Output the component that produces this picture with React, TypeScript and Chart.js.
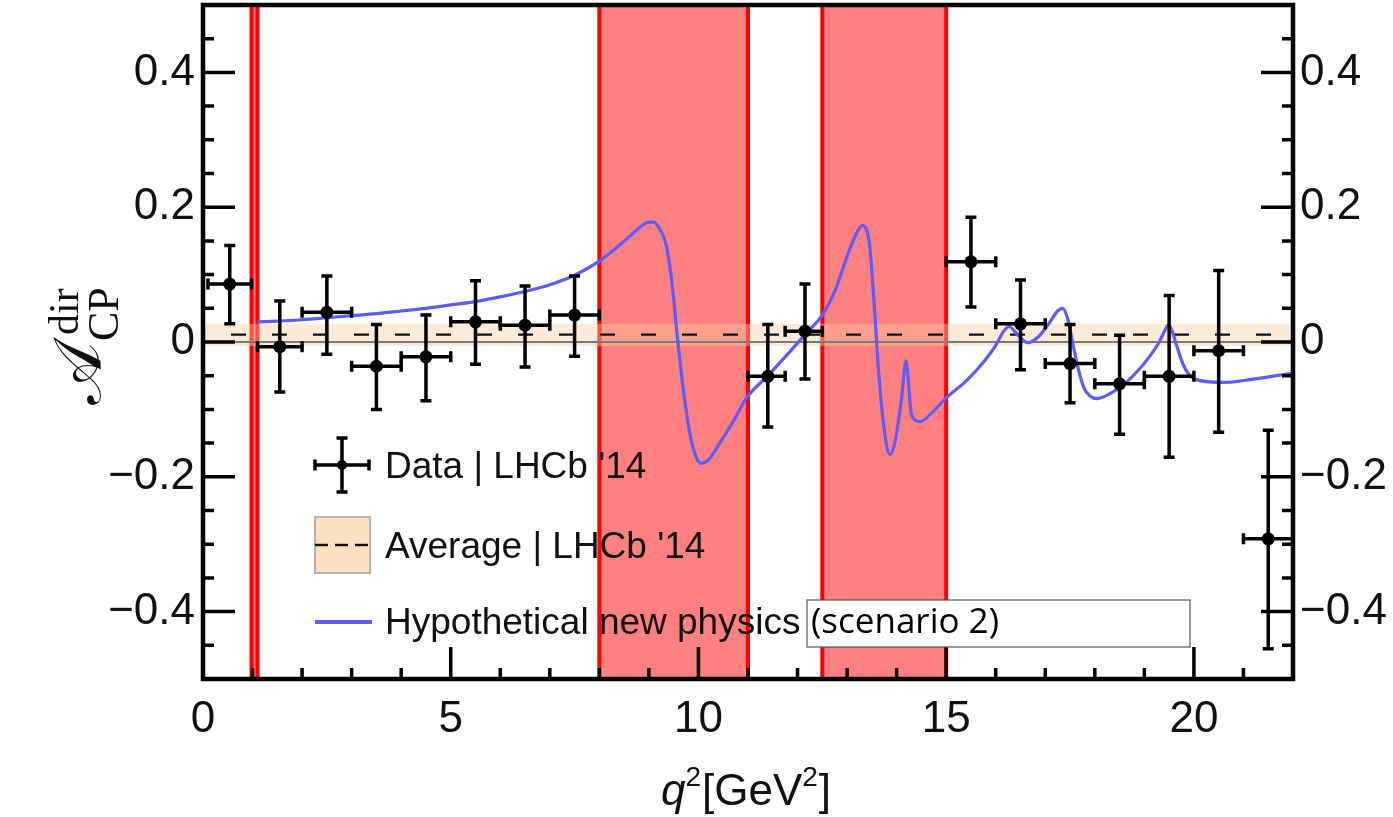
import React, { useEffect, useRef } from 'react';
import { Chart, registerables } from 'chart.js';

Chart.register(...registerables);

// ---- axis ticks ----
const xTickLabels = [0, 5, 10, 15, 20];
const xMinorTicks = [1, 2, 3, 4, 6, 7, 8, 9, 11, 12, 13, 14, 16, 17, 18, 19, 21];
const yTickLabels = [-0.4, -0.2, 0, 0.2, 0.4];
const yMinorTicks = [-0.45, -0.35, -0.3, -0.25, -0.15, -0.1, -0.05, 0.05, 0.1, 0.15, 0.25, 0.3, 0.35, 0.45];

// ---- vetoed q2 regions ----
const vetoLo = [0.98, 8.0, 12.5];
const vetoHi = [1.1, 11.0, 15.0];

// ---- LHCb '14 average ----
const avgValue = 0.011;
const avgLow = -0.006;
const avgHigh = 0.027;

// ---- LHCb '14 data ----
const binLo = [0.1, 1.1, 2, 3, 4, 5, 6, 7, 11, 11.75, 15, 16, 17, 18, 19, 20, 21];
const binHi = [0.98, 2, 3, 4, 5, 6, 7, 8, 11.75, 12.5, 16, 17, 18, 19, 20, 21, 22];
const dataX = [0.54, 1.55, 2.5, 3.5, 4.5, 5.5, 6.5, 7.5, 11.4, 12.15, 15.5, 16.5, 17.5, 18.5, 19.5, 20.5, 21.5];
const dataY = [0.086, -0.007, 0.044, -0.036, -0.022, 0.030, 0.025, 0.040, -0.051, 0.016, 0.119, 0.027, -0.032, -0.062, -0.051, -0.013, -0.292];
const dataYHigh = [0.143, 0.061, 0.098, 0.026, 0.040, 0.091, 0.083, 0.098, 0.026, 0.086, 0.185, 0.092, 0.026, 0.010, 0.069, 0.106, -0.131];
const dataYLow = [0.027, -0.074, -0.018, -0.100, -0.087, -0.033, -0.037, -0.021, -0.126, -0.055, 0.052, -0.041, -0.090, -0.137, -0.171, -0.134, -0.455];

// ---- hypothetical new physics (scenario 2) ----
const npX = [1.1, 1.5, 2.0, 2.5, 3.0, 3.5, 4.0, 4.5, 5.0, 5.5, 6.0, 6.5, 7.0, 7.5, 8.0, 8.3, 8.6, 8.85, 9.0, 9.1, 9.2, 9.3, 9.36, 9.46, 9.57, 9.69, 9.83, 9.95, 10.06, 10.2, 10.37, 10.7, 10.97, 11.4, 11.8, 12.2, 12.5, 12.75, 12.99, 13.15, 13.31, 13.4, 13.46, 13.56, 13.63, 13.73, 13.86, 13.97, 14.1, 14.19, 14.3, 14.47, 14.74, 15.0, 15.4, 15.75, 16.0, 16.15, 16.27, 16.45, 16.65, 16.85, 17.05, 17.25, 17.35, 17.45, 17.55, 17.65, 17.78, 17.9, 18.05, 18.3, 18.6, 18.9, 19.1, 19.3, 19.42, 19.48, 19.55, 19.65, 19.78, 19.92, 20.1, 20.6, 21.2, 22.0];
const npY = [0.030, 0.031, 0.033, 0.036, 0.039, 0.042, 0.046, 0.050, 0.055, 0.060, 0.067, 0.075, 0.085, 0.099, 0.120, 0.137, 0.156, 0.172, 0.178, 0.178, 0.170, 0.155, 0.140, 0.091, 0.011, -0.068, -0.137, -0.170, -0.180, -0.175, -0.157, -0.118, -0.083, -0.050, -0.018, 0.015, 0.040, 0.075, 0.125, 0.155, 0.173, 0.165, 0.140, 0.042, -0.038, -0.118, -0.167, -0.147, -0.083, -0.028, -0.108, -0.118, -0.103, -0.083, -0.058, -0.030, -0.005, 0.015, 0.023, 0.010, -0.001, 0.007, 0.025, 0.046, 0.050, 0.035, 0.000, -0.035, -0.068, -0.080, -0.084, -0.077, -0.062, -0.040, -0.022, 0.000, 0.018, 0.025, 0.018, -0.005, -0.033, -0.050, -0.057, -0.060, -0.055, -0.046];

// ---- legend ----
const legendLabels = ["Data | LHCb '14", "Average | LHCb '14", 'Hypothetical new physics'];
const legendNote = '(scenario 2)';

const SANS = '"Liberation Sans", Arial, sans-serif';
const BLUE = '#5c5cff';

function fmtY(v: number): string {
  const r = Math.round(v * 10) / 10;
  if (Math.abs(r) < 1e-9) return '0';
  return r < 0 ? '\u2212' + Math.abs(r).toFixed(1) : r.toFixed(1);
}

const customPlugin = {
  id: 'custom',
  beforeDatasetsDraw(chart: any) {
    const { ctx, chartArea: a, scales } = chart;
    const x = scales.x, y = scales.y;
    ctx.save();
    ctx.beginPath();
    ctx.rect(a.left, a.top, a.right - a.left, a.bottom - a.top);
    ctx.clip();
    // veto bands
    vetoLo.forEach((lo, i) => {
      const x1 = x.getPixelForValue(lo);
      const x2 = x.getPixelForValue(vetoHi[i]);
      ctx.fillStyle = '#ff8080';
      ctx.fillRect(x1, a.top, x2 - x1, a.bottom - a.top);
      ctx.strokeStyle = '#ff0000';
      ctx.lineWidth = 4;
      [x1, x2].forEach((px) => {
        ctx.beginPath();
        ctx.moveTo(px, a.top);
        ctx.lineTo(px, a.bottom);
        ctx.stroke();
      });
    });
    // average band
    const yb1 = y.getPixelForValue(avgHigh);
    const yb2 = y.getPixelForValue(avgLow);
    ctx.fillStyle = 'rgba(250,205,160,0.42)';
    ctx.fillRect(a.left, yb1, a.right - a.left, yb2 - yb1);
    // zero line
    const y0 = y.getPixelForValue(0);
    ctx.strokeStyle = '#7a7a7a';
    ctx.lineWidth = 2;
    ctx.beginPath();
    ctx.moveTo(a.left, y0);
    ctx.lineTo(a.right, y0);
    ctx.stroke();
    // dashed average
    const ya = y.getPixelForValue(avgValue);
    ctx.strokeStyle = '#111';
    ctx.lineWidth = 2.2;
    ctx.setLineDash([15, 26]);
    ctx.lineDashOffset = -28;
    ctx.beginPath();
    ctx.moveTo(a.left, ya);
    ctx.lineTo(a.right, ya);
    ctx.stroke();
    ctx.setLineDash([]);
    ctx.restore();
  },
  afterDatasetsDraw(chart: any) {
    const { ctx, chartArea: a, scales } = chart;
    const x = scales.x, y = scales.y;
    ctx.save();
    ctx.beginPath();
    ctx.rect(a.left, a.top, a.right - a.left, a.bottom - a.top);
    ctx.clip();
    ctx.strokeStyle = '#000';
    ctx.fillStyle = '#000';
    ctx.lineWidth = 3.5;
    const cap = 5.5;
    dataX.forEach((dx, i) => {
      const px = x.getPixelForValue(dx);
      const py = y.getPixelForValue(dataY[i]);
      const xl = x.getPixelForValue(binLo[i]);
      const xh = x.getPixelForValue(binHi[i]);
      const yh = y.getPixelForValue(dataYHigh[i]);
      const yl = y.getPixelForValue(dataYLow[i]);
      ctx.beginPath();
      ctx.moveTo(xl, py); ctx.lineTo(xh, py);
      ctx.moveTo(xl, py - cap); ctx.lineTo(xl, py + cap);
      ctx.moveTo(xh, py - cap); ctx.lineTo(xh, py + cap);
      ctx.moveTo(px, yh); ctx.lineTo(px, yl);
      ctx.moveTo(px - cap, yh); ctx.lineTo(px + cap, yh);
      ctx.moveTo(px - cap, yl); ctx.lineTo(px + cap, yl);
      ctx.stroke();
      ctx.beginPath();
      ctx.arc(px, py, 6.5, 0, Math.PI * 2);
      ctx.fill();
    });
    ctx.restore();
  },
  afterDraw(chart: any) {
    const { ctx, chartArea: a, scales } = chart;
    const x = scales.x, y = scales.y;
    ctx.save();
    // inward ticks
    ctx.strokeStyle = '#000';
    ctx.lineWidth = 3.5;
    const major = 32, minor = 11;
    ctx.beginPath();
    xTickLabels.forEach((v) => {
      const px = x.getPixelForValue(v);
      ctx.moveTo(px, a.bottom); ctx.lineTo(px, a.bottom - major);
    });
    xMinorTicks.forEach((v) => {
      const px = x.getPixelForValue(v);
      ctx.moveTo(px, a.bottom); ctx.lineTo(px, a.bottom - minor);
    });
    yTickLabels.forEach((v) => {
      const py = y.getPixelForValue(v);
      ctx.moveTo(a.left, py); ctx.lineTo(a.left + major, py);
      ctx.moveTo(a.right, py); ctx.lineTo(a.right - major, py);
    });
    yMinorTicks.forEach((v) => {
      const py = y.getPixelForValue(v);
      ctx.moveTo(a.left, py); ctx.lineTo(a.left + minor, py);
      ctx.moveTo(a.right, py); ctx.lineTo(a.right - minor, py);
    });
    ctx.stroke();
    // frame
    ctx.lineWidth = 4.5;
    ctx.strokeRect(a.left, a.top, a.right - a.left, a.bottom - a.top);

    // legend
    ctx.fillStyle = '#000';
    ctx.strokeStyle = '#000';
    ctx.lineWidth = 3.5;
    const cx = 342, cy = 465;
    ctx.beginPath();
    ctx.moveTo(cx - 27, cy); ctx.lineTo(cx + 27, cy);
    ctx.moveTo(cx - 27, cy - 5.5); ctx.lineTo(cx - 27, cy + 5.5);
    ctx.moveTo(cx + 27, cy - 5.5); ctx.lineTo(cx + 27, cy + 5.5);
    ctx.moveTo(cx, cy - 27); ctx.lineTo(cx, cy + 27);
    ctx.moveTo(cx - 5.5, cy - 27); ctx.lineTo(cx + 5.5, cy - 27);
    ctx.moveTo(cx - 5.5, cy + 27); ctx.lineTo(cx + 5.5, cy + 27);
    ctx.stroke();
    ctx.beginPath();
    ctx.arc(cx, cy, 5, 0, Math.PI * 2);
    ctx.fill();
    ctx.fillStyle = '#fde0c2';
    ctx.fillRect(315, 517, 55, 56);
    ctx.strokeStyle = '#b9b2aa';
    ctx.lineWidth = 2;
    ctx.strokeRect(315, 517, 55, 56);
    ctx.strokeStyle = '#111';
    ctx.lineWidth = 2.5;
    ctx.setLineDash([13, 7]);
    ctx.beginPath();
    ctx.moveTo(315, 545); ctx.lineTo(373, 545);
    ctx.stroke();
    ctx.setLineDash([]);
    ctx.strokeStyle = BLUE;
    ctx.lineWidth = 4;
    ctx.beginPath();
    ctx.moveTo(315, 622); ctx.lineTo(372, 622);
    ctx.stroke();
    ctx.fillStyle = '#111';
    ctx.font = `37px ${SANS}`;
    ctx.textAlign = 'left';
    ctx.textBaseline = 'alphabetic';
    ctx.fillText(legendLabels[0], 385, 478);
    ctx.fillText(legendLabels[1], 385, 558);
    ctx.fillText(legendLabels[2], 385, 634);
    // note box
    ctx.fillStyle = '#fff';
    ctx.fillRect(807, 600, 383, 47);
    ctx.strokeStyle = '#555';
    ctx.lineWidth = 1.2;
    ctx.strokeRect(807, 600, 383, 47);
    ctx.fillStyle = '#000';
    ctx.font = '35px "Open Sans", Lato, sans-serif';
    ctx.fillText(legendNote, 811, 633);

    // x title: q^2[GeV^2]
    const base = 44, sup = 28;
    const fNorm = `${base}px ${SANS}`;
    const fIt = `italic ${base}px ${SANS}`;
    const fSup = `${sup}px ${SANS}`;
    const parts: [string, string, number][] = [
      ['q', fIt, 0], ['2', fSup, -19], ['[GeV', fNorm, 0], ['2', fSup, -19], [']', fNorm, 0],
    ];
    let total = 0;
    parts.forEach(([t, f]) => { ctx.font = f; total += ctx.measureText(t).width + (t === '2' ? 1 : 0); });
    let tx = 746 - total / 2;
    const tb = 805;
    ctx.fillStyle = '#111';
    parts.forEach(([t, f, dy]) => {
      ctx.font = f;
      ctx.fillText(t, tx, tb + dy);
      tx += ctx.measureText(t).width + (t === '2' ? 1 : 0);
    });

    // y title: A_CP^dir rotated
    ctx.save();
    ctx.translate(100, 405);
    ctx.rotate(-Math.PI / 2);
    ctx.fillStyle = '#111';
    ctx.font = '66px "DejaVu Serif", "Liberation Serif", serif';
    ctx.fillText('\u{1D49C}', 0, 0);
    const aw = ctx.measureText('\u{1D49C}').width;
    ctx.font = '44px "Liberation Serif", "DejaVu Serif", serif';
    ctx.fillText('CP', aw + 2, 18);
    ctx.font = '42px "Liberation Serif", "DejaVu Serif", serif';
    ctx.fillText('dir', aw + 8, -22);
    ctx.restore();

    ctx.restore();
  },
};

const zeroPad = (s: any) => {
  s.paddingTop = 0;
  s.paddingBottom = 0;
  s.paddingLeft = 0;
  s.paddingRight = 0;
};

export default function App() {
  const ref = useRef<HTMLCanvasElement | null>(null);
  useEffect(() => {
    document.body.style.margin = '0';
    const canvas = ref.current;
    if (!canvas) return;
    const chart = new Chart(canvas, {
      type: 'scatter',
      data: {
        datasets: [
          {
            label: 'NP',
            data: npX.map((v, i) => ({ x: v, y: npY[i] })),
            showLine: true,
            borderColor: BLUE,
            borderWidth: 3.2,
            pointRadius: 0,
            cubicInterpolationMode: 'monotone',
            order: 1,
          } as any,
        ],
      },
      options: {
        animation: false,
        responsive: false,
        devicePixelRatio: 1,
        layout: { padding: { top: 5, left: 0, right: 0, bottom: 0 } },
        plugins: { legend: { display: false }, tooltip: { enabled: false } },
        scales: {
          x: {
            type: 'linear',
            min: 0,
            max: 22,
            position: 'bottom',
            grid: { display: false, drawTicks: false },
            border: { display: false },
            ticks: { font: { family: SANS, size: 44 }, color: '#111', padding: 14, maxRotation: 0, autoSkip: false },
            afterBuildTicks: (s: any) => { s.ticks = xTickLabels.map((v) => ({ value: v })); },
            afterFit: (s: any) => { s.height = 138; zeroPad(s); },
          },
          y: {
            type: 'linear',
            min: -0.5,
            max: 0.5,
            position: 'left',
            grid: { display: false, drawTicks: false },
            border: { display: false },
            ticks: { font: { family: SANS, size: 44 }, color: '#111', padding: 8, callback: (v: any) => fmtY(Number(v)) },
            afterBuildTicks: (s: any) => { s.ticks = yTickLabels.map((v) => ({ value: v })); },
            afterFit: (s: any) => { s.width = 203; zeroPad(s); },
          },
          y2: {
            type: 'linear',
            min: -0.5,
            max: 0.5,
            position: 'right',
            grid: { display: false, drawTicks: false },
            border: { display: false },
            ticks: { font: { family: SANS, size: 44 }, color: '#111', padding: 7, callback: (v: any) => fmtY(Number(v)) },
            afterBuildTicks: (s: any) => { s.ticks = yTickLabels.map((v) => ({ value: v })); },
            afterFit: (s: any) => { s.width = 100; zeroPad(s); },
          },
        },
      } as any,
      plugins: [customPlugin],
    });
    return () => chart.destroy();
  }, []);
  return (
    <div style={{ width: 1393, height: 817, background: '#fff' }}>
      <canvas ref={ref} width={1393} height={817} style={{ display: 'block' }} />
    </div>
  );
}
